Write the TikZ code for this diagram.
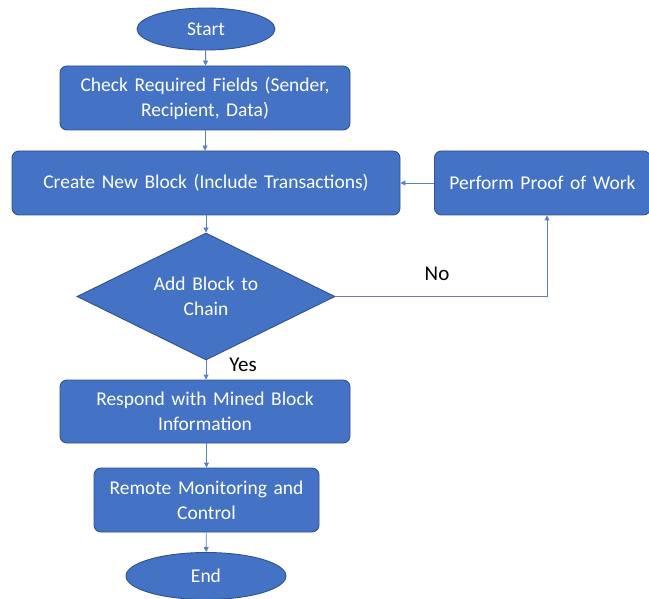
\documentclass[tikz,border=0pt]{standalone}
\usepackage{fontspec}
\setmainfont{Carlito}[WordSpace=1.5]
\usetikzlibrary{shapes.geometric,arrows.meta}
\definecolor{fillb}{HTML}{4472C4}
\definecolor{edgeb}{HTML}{2F528F}
\definecolor{arrb}{HTML}{5B7FC7}
\tikzset{
  box/.style={draw=edgeb,line width=0.9pt,fill=fillb,rounded corners=7pt,text=white,font=\fontsize{19.5}{25}\selectfont,align=center,inner sep=0pt},
  term/.style={ellipse,draw=edgeb,line width=0.9pt,fill=fillb,text=white,font=\fontsize{19.5}{25}\selectfont,inner sep=0pt},
  dec/.style={diamond,draw=edgeb,line width=0.9pt,fill=fillb,text=white,font=\fontsize{19.5}{25}\selectfont,align=center,inner sep=0pt,aspect=2.03},
  conn/.style={draw=arrb,line width=0.9pt,-{Triangle[width=5pt,length=5pt]}},
  lbl/.style={font=\fontsize{21}{24}\selectfont,text=black}
}
\begin{document}
\begin{tikzpicture}[x=1pt,y=-1pt]
\useasboundingbox (0,0) rectangle (649,599);
\node[term,minimum width=138pt,minimum height=42pt] (start) at (206,29) {Start};
\node[box,minimum width=290pt,minimum height=64pt] (check) at (205,98) {Check Required Fields (Sender,\\Recipient, Data)};
\node[box,minimum width=388pt,minimum height=64pt] (create) at (206,183) {Create New Block (Include Transactions)};
\node[box,minimum width=216pt,minimum height=64pt,anchor=west] (pow) at (434,183) {Perform Proof of Work};
\node[dec,minimum width=258pt,minimum height=127pt] (add) at (206,296.5) {Add Block to\\Chain};
\node[box,minimum width=290pt,minimum height=63pt] (resp) at (205,411.5) {Respond with Mined Block\\Information};
\node[box,minimum width=225pt,minimum height=64pt] (remote) at (206.5,500) {Remote Monitoring and\\Control};
\node[term,minimum width=160pt,minimum height=47pt] (end) at (206,576) {End};
\coordinate (corner) at (547,296.5);
\draw[conn] (start) -- (check);
\draw[conn] (check) -- (check.south |- create.north);
\draw[conn] (pow) -- (create);
\draw[conn] (create.south -| add.north) -- (add);
\draw[conn] (add.east) -- (corner) -- (corner |- pow.south);
\draw[conn] (add.south) -- (add.south |- resp.north);
\draw[conn] (resp.south -| remote.north) -- (remote);
\draw[conn] (remote) -- (end);
\node[lbl] (no) at (437,274) {No};
\node[lbl] (yes) at (243,365) {Yes};
\end{tikzpicture}
\end{document}
